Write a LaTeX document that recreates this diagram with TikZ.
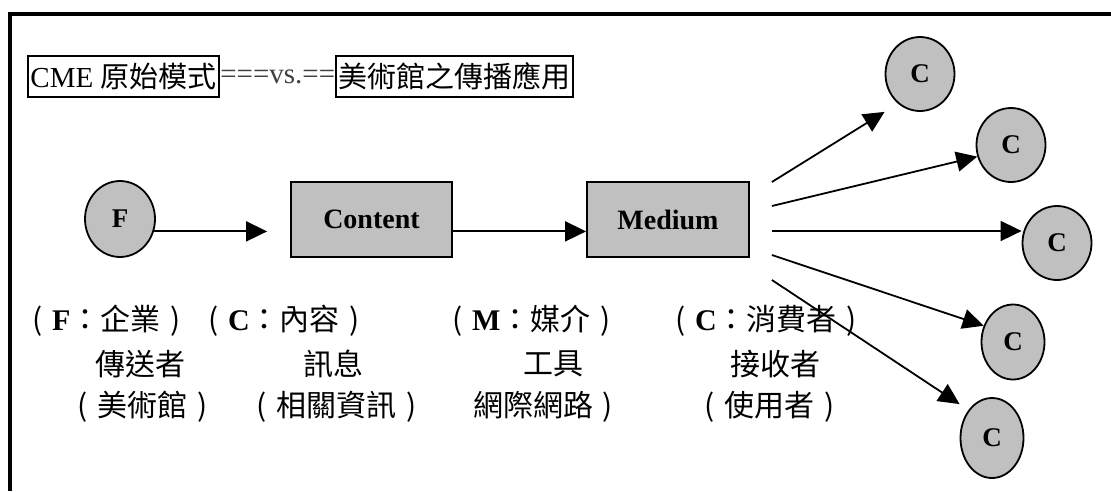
\documentclass[tikz,border=0pt]{standalone}
\usepackage{fontspec}
\setmainfont{Liberation Serif}
\newfontfamily\cjkf{Noto Sans CJK TC}
\usetikzlibrary{arrows.meta,shapes.geometric,calc}
\definecolor{boxgray}{HTML}{C0C0C0}
\newcommand\mylp{\makebox[1em][c]{\cjkf (}}
\newcommand\myrp{\makebox[1em][c]{\cjkf )}}
\tikzset{
  ell/.style={ellipse, draw, line width=1.8pt, fill=boxgray, inner sep=0pt,
    font=\fontsize{27}{30}\selectfont\bfseries},
  rbox/.style={rectangle, draw, line width=1.8pt, fill=boxgray, inner sep=0pt,
    font=\fontsize{28}{32}\selectfont\bfseries},
  arr/.style={line width=1.8pt, -{Triangle[length=21pt,width=20pt]}},
  lbl/.style={inner sep=0pt, font=\fontsize{30}{36}\selectfont},
  ttl/.style={inner xsep=2.5pt, inner ysep=0pt, minimum height=41pt,
    font=\fontsize{29}{34}\selectfont},
  frameline/.style={line width=4pt, line join=miter},
}
\begin{document}
\begin{tikzpicture}[x=1pt,y=-1pt]
\useasboundingbox (0,0) rectangle (1111,491);
\draw[frameline] (10,491) -- (10,14) -- (1111,14);

% title
\node[ttl, draw, line width=2pt, anchor=west] (t1) at (27,76.5) {CME {\cjkf 原始模式}};
\node[ttl, anchor=west, inner xsep=0pt, text=black!75] (t2) at (t1.east) {===vs.==};
\node[ttl, draw, line width=2pt, anchor=west] (t3) at (t2.east) {\cjkf 美術館之傳播應用};

% main chain
\node[ell, minimum width=70pt, minimum height=76pt] (F) at (120,219) {F};
\node[rbox, minimum width=161pt, minimum height=75pt] (Content) at (371.5,219.5) {Content};
\node[rbox, minimum width=162pt, minimum height=75pt] (Medium) at (668,219.5) {Medium};

% consumers
\node[ell, minimum width=69pt, minimum height=74pt] (C1) at (920,74) {C};
\node[ell, minimum width=69pt, minimum height=74pt] (C2) at (1011,145) {C};
\node[ell, minimum width=69pt, minimum height=74pt] (C3) at (1057,243) {C};
\node[ell, minimum width=63pt, minimum height=75pt] (C4) at (1013,342) {C};
\node[ell, minimum width=63pt, minimum height=80pt] (C5) at (992,438) {C};

% connectors
\draw[arr, shorten >=23pt] (F.-20) -- (F.-20 -| Content.west);
\draw[arr] (F.-20 -| Content.east) -- (F.-20 -| Medium.west);

\coordinate (m1) at ($(Medium.east)+(22,-37.5)$);
\coordinate (m2) at ($(Medium.east)+(22,-13.5)$);
\coordinate (m3) at ($(Medium.east)+(22,11.5)$);
\coordinate (m4) at ($(Medium.east)+(22,35.5)$);
\coordinate (m5) at ($(Medium.east)+(22,60.5)$);

\draw[arr] (m1) -- (C1.west |- C1.south);
\draw[arr] (m2) -- (C2.199);
\draw[arr] (m3) -- (m3 -| C3.west);
\draw[arr] (m4) -- (C4.151);
\draw[arr] (m5) -- ($(C5.west |- C5.north)+(0,7)$);

% labels
\node[lbl, anchor=west] (l1) at (22,321) {\mylp\textbf{F}{\cjkf ：企業}\myrp};
\node[lbl, anchor=west] (l2) at (198,321) {\mylp\textbf{C}{\cjkf ：內容}\myrp};
\node[lbl, anchor=west] (l3) at (442,321) {\mylp\textbf{M}{\cjkf ：媒介}\myrp};
\node[lbl, anchor=west] (l4) at (665,321) {\mylp\textbf{C}{\cjkf ：消費者}\myrp};

\node[lbl] (r1) at (140,364) {\cjkf 傳送者};
\node[lbl] (r2) at (333,364) {\cjkf 訊息};
\node[lbl] (r3) at (553,364) {\cjkf 工具};
\node[lbl] (r4) at (775,364) {\cjkf 接收者};

\node[lbl] (s1) at (143,407) {\mylp{\cjkf 美術館}\myrp};
\node[lbl] (s2) at (337,407) {\mylp{\cjkf 相關資訊}\myrp};
\node[lbl] (s3) at (548,407) {{\cjkf 網際網路}\myrp};
\node[lbl] (s4) at (770,407) {\mylp{\cjkf 使用者}\myrp};
\end{tikzpicture}
\end{document}
